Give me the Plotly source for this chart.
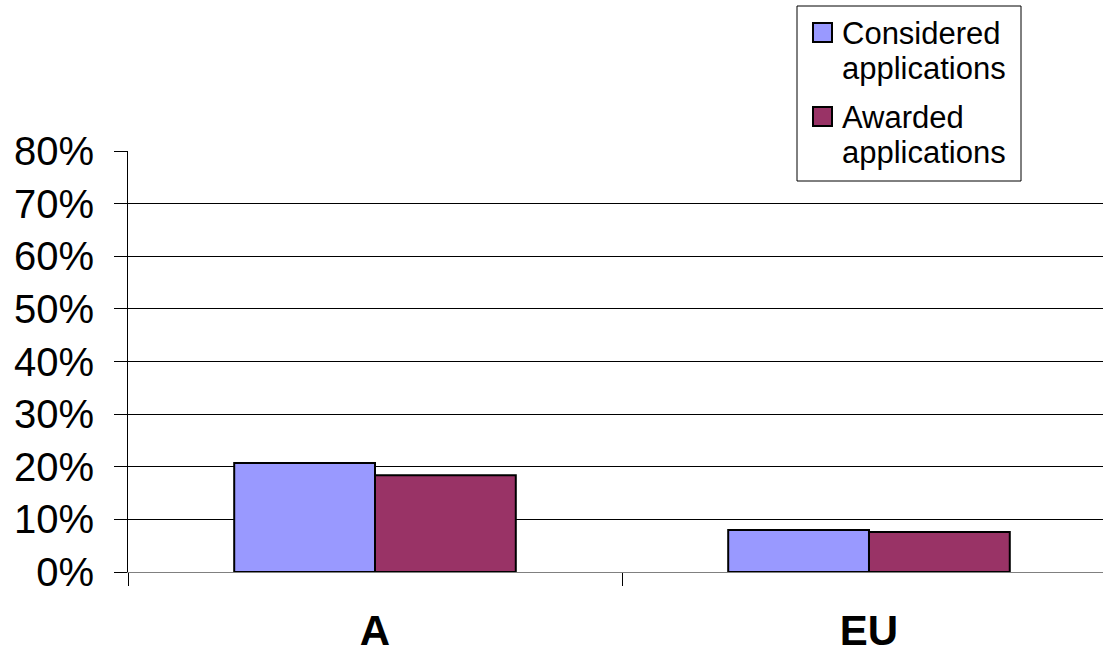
import plotly.graph_objects as go

regions = ["A", "EU"]
considered = [0.207, 0.080]
awarded = [0.184, 0.076]
series_names = [["Considered", "applications"], ["Awarded", "applications"]]
series_colors = ["#9999FF", "#993366"]

W, H = 1103, 652
L, R, T, B = 128, 0, 151, 80


def px_x(p):
    return (p - L) / (W - L - R)


def px_y(p):
    return (H - B - p) / (H - T - B)


fig = go.Figure()
for name, vals, color in zip(series_names, [considered, awarded], series_colors):
    fig.add_trace(go.Bar(
        x=regions, y=vals, name=" ".join(name),
        marker=dict(color=color, line=dict(color="black", width=2)),
    ))

# Boxed legend in the top-right corner
shapes = [dict(type="rect", xref="paper", yref="paper",
               x0=px_x(797), x1=px_x(1021), y0=px_y(181), y1=px_y(6),
               line=dict(color="black", width=1), fillcolor="white", layer="above")]
annotations = []
entry_top = [23, 107]
for (lines, color, top) in zip(series_names, series_colors, entry_top):
    shapes.append(dict(type="rect", xref="paper", yref="paper",
                       x0=px_x(813), x1=px_x(832), y0=px_y(top + 19), y1=px_y(top),
                       line=dict(color="black", width=2), fillcolor=color, layer="above"))
    for i, line in enumerate(lines):
        baseline = top + 22 + 34 * i
        annotations.append(dict(xref="paper", yref="paper",
                                x=px_x(840), y=px_y(baseline - 11),
                                xanchor="left", yanchor="middle", showarrow=False,
                                text=line, font=dict(size=31, color="black")))

fig.update_layout(
    width=W, height=H,
    margin=dict(l=L, r=R, t=T, b=B, autoexpand=False),
    paper_bgcolor="white", plot_bgcolor="white",
    font=dict(family="Liberation Sans, Arial, sans-serif", color="black"),
    barmode="group", bargap=0.43, bargroupgap=0,
    showlegend=False,
    shapes=shapes, annotations=annotations,
)
fig.update_xaxes(
    type="category", range=[-0.5, 1.4737],
    showgrid=False, showline=True, linecolor="#808080", linewidth=1,
    ticks="outside", tickson="boundaries", ticklen=13, tickcolor="black",
    tickfont=dict(size=42), ticklabelstandoff=22,
    ticktext=["<b>A</b>", "<b>EU</b>"], tickvals=regions,
)
fig.update_yaxes(
    range=[0, 0.8], dtick=0.1, tickformat=".0%",
    showgrid=True, gridcolor="black", gridwidth=1,
    zeroline=False, showline=True, linecolor="black", linewidth=1,
    ticks="outside", ticklen=13, tickcolor="black",
    tickfont=dict(size=40), ticklabelstandoff=12,
)

fig.write_html("out.html")
